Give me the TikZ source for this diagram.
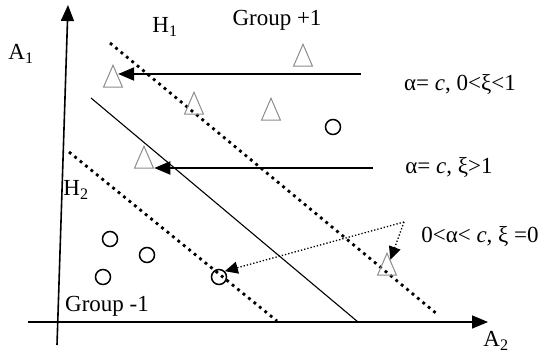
\documentclass[tikz,border=0pt]{standalone}
\usepackage{fontspec}
\setmainfont{Liberation Serif}
\usetikzlibrary{arrows.meta,positioning,shapes.geometric}
\tikzset{
  axis/.style={line width=1.6pt,-{Triangle[length=16pt,width=13pt]}},
  sep/.style={line width=1.1pt},
  margin/.style={line width=2.8pt,dash pattern=on 2.8pt off 4.2pt},
  tri/.style={draw=gray!90,line width=1pt,isosceles triangle,isosceles triangle stretches,
    shape border rotate=90,minimum width=19pt,minimum height=22pt,inner sep=0pt},
  pt/.style={draw,circle,line width=1.5pt,minimum size=15pt,inner sep=0pt},
  push/.style={line width=2pt,-{Triangle[length=16pt,width=13pt]}},
  slack/.style={line width=1.3pt,dotted,-{Triangle[length=13pt,width=12pt]}},
  lab/.style={font=\fontsize{23}{26}\selectfont,inner sep=0pt}
}

\begin{document}
\begin{tikzpicture}[x=1pt,y=-1pt]
\useasboundingbox (0,0) rectangle (548,355);

% axes
\coordinate (ybot) at (57,345);
\coordinate (ytop) at (68,5);
\coordinate (xbot) at (28,322);
\coordinate (xtop) at (488,322);
\draw[axis] (ybot) -- (ytop);
\draw[axis] (xbot) -- (xtop);
\node[lab] (a1) at (21,54) {A\textsubscript{1}};
\node[lab] (a2) at (496,341) {A\textsubscript{2}};

% hyperplanes
\coordinate (h1top) at (110,43);
\coordinate (h1bot) at (437,314);
\coordinate (midtop) at (91,98);
\coordinate (midbot) at (358,322);
\coordinate (h2top) at (69,152);
\coordinate (h2bot) at (277,321);
\draw[margin] (h1top) -- (h1bot);
\draw[sep] (midtop) -- (midbot);
\draw[margin] (h2top) -- (h2bot);
\node[lab] (h1) at (165,27) {H\textsubscript{1}};
\node[lab] (h2) at (76,190) {H\textsubscript{2}};
\node[lab] (gplus) at (277,20) {Group +1};
\node[lab] (gminus) at (107,306) {Group -1};

% samples
\node[tri] (tri1) at (113,81) {};
\node[tri] (tri2) at (303,60) {};
\node[tri] (tri3) at (194,108) {};
\node[tri] (tri4) at (271,114) {};
\node[tri] (tri5) at (144,162) {};
\node[tri] (tri6) at (387,269) {};
\node[pt] (circ1) at (333,127) {};
\node[pt] (circ2) at (110,239) {};
\node[pt] (circ3) at (147,255) {};
\node[pt] (circ4) at (103,277) {};
\node[pt] (circ5) at (219,277) {};

% multipliers
\node[lab] (inside) at (460,84) {α= \textit{c}, 0<ξ<1};
\node[lab] (wrong) at (449,167) {α= \textit{c}, ξ>1};
\node[lab] (onmargin) at (480,236) {0<α< \textit{c}, ξ =0};
\coordinate (s1) at (361,74);
\coordinate (s2) at (373,168);
\coordinate (bend) at (404,222);
\draw[push] (s1) -- (s1 -| tri1.right side);
\draw[push] (s2) -- (s2 -| tri5.right corner);
\draw[slack] (bend) -- (circ5.north east);
\draw[slack] (bend) -- (tri6.70);

\end{tikzpicture}
\end{document}
